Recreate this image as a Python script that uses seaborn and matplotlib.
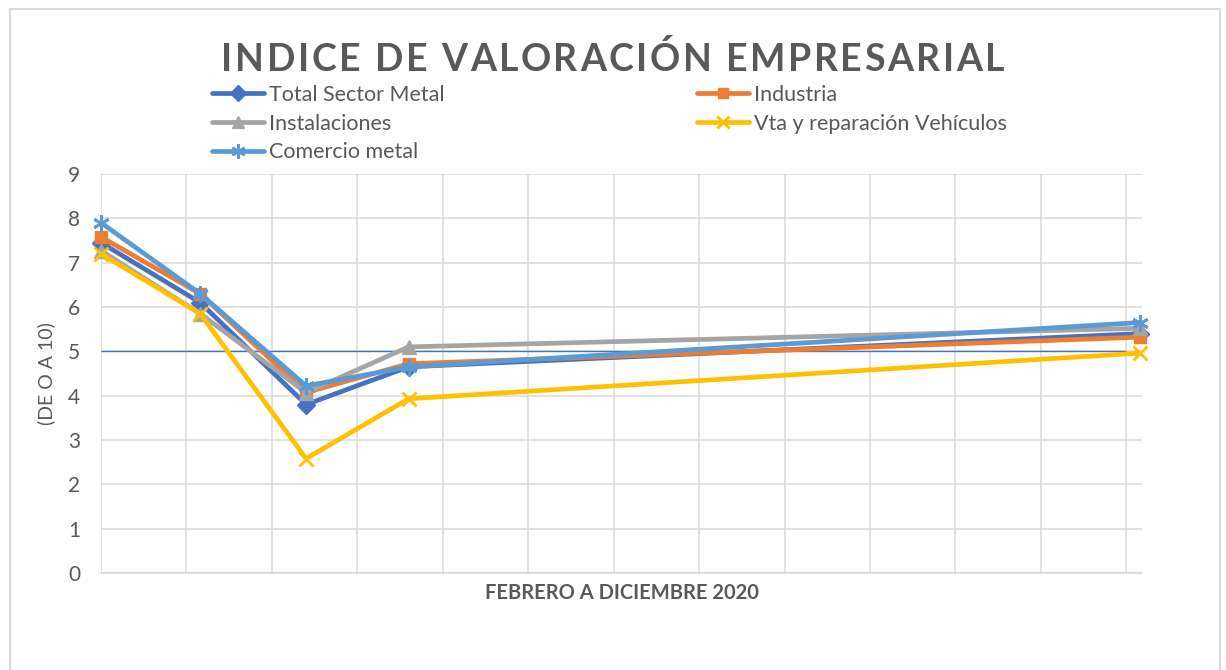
import matplotlib
matplotlib.use("Agg")
import matplotlib.pyplot as plt
import pandas as pd
import seaborn as sns
from matplotlib.patches import Rectangle

sns.set_style("white")
plt.rcParams['font.family'] = ['Lato', 'DejaVu Sans']

# datos (indice de 0 a 10)
fechas = ["2020-02-01", "2020-03-01", "2020-04-01", "2020-05-01", "2020-12-01"]
total_sector = [7.45, 6.1, 3.8, 4.65, 5.4]
industria = [7.58, 6.3, 4.07, 4.72, 5.32]
instalaciones = [7.27, 5.85, 4.07, 5.1, 5.52]
vehiculos = [7.2, 5.85, 2.58, 3.93, 4.96]
comercio = [7.9, 6.3, 4.22, 4.65, 5.65]
series = ["Total Sector Metal", "Industria", "Instalaciones",
          "Vta y reparación Vehículos", "Comercio metal"]
valores = [total_sector, industria, instalaciones, vehiculos, comercio]
referencia = 5
titulo = "INDICE DE VALORACIÓN EMPRESARIAL"

colores = ["#4472C4", "#ED7D31", "#A5A5A5", "#FFC000", "#5B9BD5"]
marcadores = ["D", "s", "^", "x", (6, 2, 0)]
tamanos = [9, 9, 10, 10, 12]
gris = "#595959"

df = pd.DataFrame({
    "fecha": pd.to_datetime(fechas * len(series)),
    "valor": [v for vals in valores for v in vals],
    "serie": [s for s in series for _ in fechas],
})

fig = plt.figure(figsize=(12.26, 6.7), dpi=100)
ax = fig.add_axes([0.0824, 0.1448, 0.8491, 0.5955])

for nombre, color, marca, tam in zip(series, colores, marcadores, tamanos):
    sub = df[df["serie"] == nombre]
    sns.lineplot(data=sub, x="fecha", y="valor", ax=ax, color=color,
                 marker=marca, markersize=tam, markeredgecolor=color,
                 markeredgewidth=2 if marca in ("x", (6, 2, 0)) else 1,
                 lw=3.4, label=nombre, clip_on=False)

# rejilla vertical cada 25 dias, como el eje de fechas de Excel
rejilla = pd.date_range(fechas[0], periods=13, freq="25D")
ax.set_xticks(rejilla)
ax.set_xticklabels([])
ax.set_xlim(pd.Timestamp(fechas[0]), pd.Timestamp(fechas[-1]) + pd.Timedelta(hours=14))
ax.set_ylim(0, 9)
ax.set_yticks(range(0, 10))
ax.grid(True, color="#D9D9D9", lw=1.1)
ax.tick_params(axis="both", length=0, labelsize=15, labelcolor=gris, pad=15)

ax.hlines(referencia, rejilla[0], rejilla[-1], color="#4472C4", lw=1, zorder=1.5)

sns.despine(ax=ax, left=True)
ax.spines["bottom"].set_color("#D9D9D9")
ax.spines["bottom"].set_linewidth(1.1)

ax.set_xlabel("FEBRERO A DICIEMBRE 2020", fontsize=14.5, fontweight="bold", color=gris)
ax.xaxis.set_label_coords(0.5, -0.026)
ax.set_ylabel("(DE O A 10)", fontsize=14, color=gris)
ax.yaxis.set_label_coords(-0.044, 0.5)

# titulo con espaciado entre letras (una letra cada vez)
renderer = fig.canvas.get_renderer()
estilo = dict(fontsize=27, fontweight="bold", color=gris, va="baseline", ha="left")


def ancho(s):
    t = fig.text(0, 0, s, **estilo)
    w = t.get_window_extent(renderer).width
    t.remove()
    return w


ancho_total = ancho(titulo)
espacio = (783 - ancho_total) / (len(titulo) - 1)
x0 = 613 - 783 / 2
for i, ch in enumerate(titulo):
    if ch == " ":
        continue
    desp = ancho(titulo[:i + 1]) - ancho(ch) + i * espacio
    fig.text((x0 + desp) / 1226, 1 - 71 / 670, ch, **estilo)

# leyenda en dos columnas, como en Excel
handles, labels = ax.get_legend_handles_labels()
ax.get_legend().remove()
izq = [0, 2, 4]
der = [1, 3]
for idx, xl in ((izq, 212), (der, 697)):
    fig.legend([handles[i] for i in idx], [labels[i] for i in idx],
               loc="upper left", bbox_to_anchor=(xl / 1226, 1 - 85 / 670),
               frameon=False, fontsize=15.5, labelcolor=gris, handlelength=2.4,
               handletextpad=0.25, labelspacing=0.4, borderpad=0, borderaxespad=0,
               markerscale=0.85)

fig.patches.append(Rectangle((10 / 1226, -0.05), 1210 / 1226, 1.05 - 9 / 670,
                             transform=fig.transFigure, fill=False,
                             edgecolor="#D9D9D9", lw=1.5))

fig.savefig("out.png", dpi=100)
